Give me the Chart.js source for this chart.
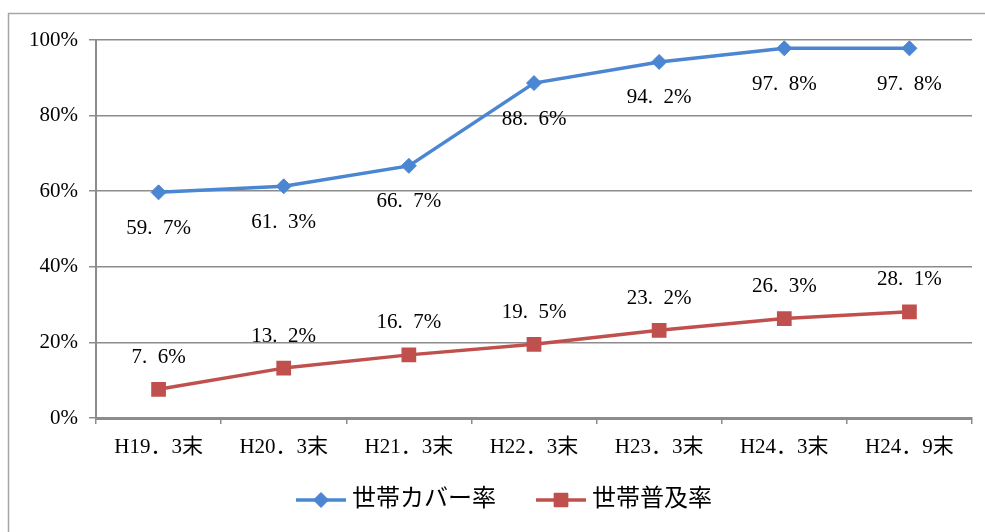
<!DOCTYPE html>
<html lang="ja">
<head>
<meta charset="utf-8">
<title>世帯カバー率と世帯普及率</title>
<script src="https://cdn.jsdelivr.net/npm/chart.js@4/dist/chart.umd.min.js"></script>
<style>
  html,body{margin:0;padding:0;background:#fff;}
  canvas{display:block;}
</style>
</head>
<body>
<canvas id="c" width="985" height="532"></canvas>
<script>
// 時点（横軸）
const LABELS = ['H19．3末','H20．3末','H21．3末','H22．3末','H23．3末','H24．3末','H24．9末'];
// 世帯カバー率 (%)
const COVER = [59.7, 61.3, 66.7, 88.6, 94.2, 97.8, 97.8];
// 世帯普及率 (%)
const FUKYU = [7.6, 13.2, 16.7, 19.5, 23.2, 26.3, 28.1];
// 縦軸の目盛
const Y_TICKS = [0, 20, 40, 60, 80, 100];

const FONT = '"Liberation Serif", "Noto Sans CJK JP", serif';
const BLUE = '#4a86d2';
const RED = '#c0504d';
const GRID = '#8c8c8c';

// 値ラベル: カバー率は点の下、普及率は点の上
const valueLabels = {
  id:'valueLabels',
  afterDatasetsDraw(chart){
    const ctx = chart.ctx;
    ctx.save();
    ctx.font = '21px ' + FONT;
    ctx.fillStyle = '#000';
    ctx.textAlign = 'center';
    ctx.textBaseline = 'middle';
    chart.data.datasets.forEach((ds, i) => {
      const meta = chart.getDatasetMeta(i);
      meta.data.forEach((pt, j) => {
        const txt = ds.data[j].toFixed(1).replace('.', '.\u2002') + '%';
        const dy = ds.labelPos === 'below' ? 36 : -32;
        ctx.fillText(txt, pt.x, pt.y + dy);
      });
    });
    ctx.restore();
  }
};

// 外枠と凡例
const frameLegend = {
  id:'frameLegend',
  beforeDraw(chart){
    const ctx = chart.ctx;
    ctx.save();
    ctx.strokeStyle = '#a6a6a6';
    ctx.lineWidth = 1.5;
    ctx.beginPath();
    ctx.moveTo(8.5, 540);
    ctx.lineTo(8.5, 13.5);
    ctx.lineTo(990, 13.5);
    ctx.stroke();
    ctx.restore();
  },
  afterDraw(chart){
    const ctx = chart.ctx;
    const y = 500;
    const items = [
      {x:296, ds:chart.data.datasets[0]},
      {x:536, ds:chart.data.datasets[1]}
    ];
    ctx.save();
    items.forEach(it => {
      ctx.strokeStyle = it.ds.borderColor;
      ctx.lineWidth = 3.5;
      ctx.beginPath(); ctx.moveTo(it.x, y); ctx.lineTo(it.x + 50, y); ctx.stroke();
      ctx.fillStyle = it.ds.borderColor;
      ctx.lineWidth = it.ds.pointBorderWidth;
      ctx.lineJoin = 'round';
      Chart.helpers.drawPoint(ctx, {pointStyle: it.ds.pointStyle, radius: it.ds.pointRadius, borderWidth: it.ds.pointBorderWidth}, it.x + 25, y);
      ctx.fillStyle = '#000';
      ctx.font = '24px ' + FONT;
      ctx.textAlign = 'left';
      ctx.textBaseline = 'middle';
      ctx.fillText(it.ds.label, it.x + 56, y);
    });
    ctx.restore();
  }
};

new Chart(document.getElementById('c'), {
  type:'line',
  data:{
    labels: LABELS,
    datasets:[
      {label:'世帯カバー率', data: COVER, borderColor: BLUE, backgroundColor: BLUE,
       borderWidth: 3.5, pointStyle:'rectRot', pointRadius: 7.5, pointBorderWidth: 1,
       tension: 0, labelPos:'below'},
      {label:'世帯普及率', data: FUKYU, borderColor: RED, backgroundColor: RED,
       borderWidth: 3.5, pointStyle:'rect', pointRadius: 9, pointBorderWidth: 2,
       borderJoinStyle:'round', tension: 0, labelPos:'above'}
    ]
  },
  options:{
    responsive:false,
    animation:false,
    layout:{padding:{left:0, top:40, right:13, bottom:74}},
    plugins:{legend:{display:false}, tooltip:{enabled:false}, title:{display:false}},
    scales:{
      x:{
        offset:true,
        grid:{drawOnChartArea:false, drawTicks:true, tickLength:6, color:GRID, lineWidth:1.5, offset:true},
        border:{color:GRID, width:3},
        ticks:{color:'#000', font:{family:FONT, size:21}, padding:11, maxRotation:0, autoSkip:false},
        afterFit(s){ s.height = 40; }
      },
      y:{
        min:0, max:100,
        afterBuildTicks(s){ s.ticks = Y_TICKS.map(v => ({value:v})); },
        grid:{color:GRID, lineWidth:1.5, tickLength:7},
        border:{color:GRID, width:2},
        ticks:{color:'#000', font:{family:FONT, size:21}, padding:11, callback:v => v + '%'},
        afterFit(s){ s.width = 96; }
      }
    }
  },
  plugins:[frameLegend, valueLabels]
});
</script>
</body>
</html>
